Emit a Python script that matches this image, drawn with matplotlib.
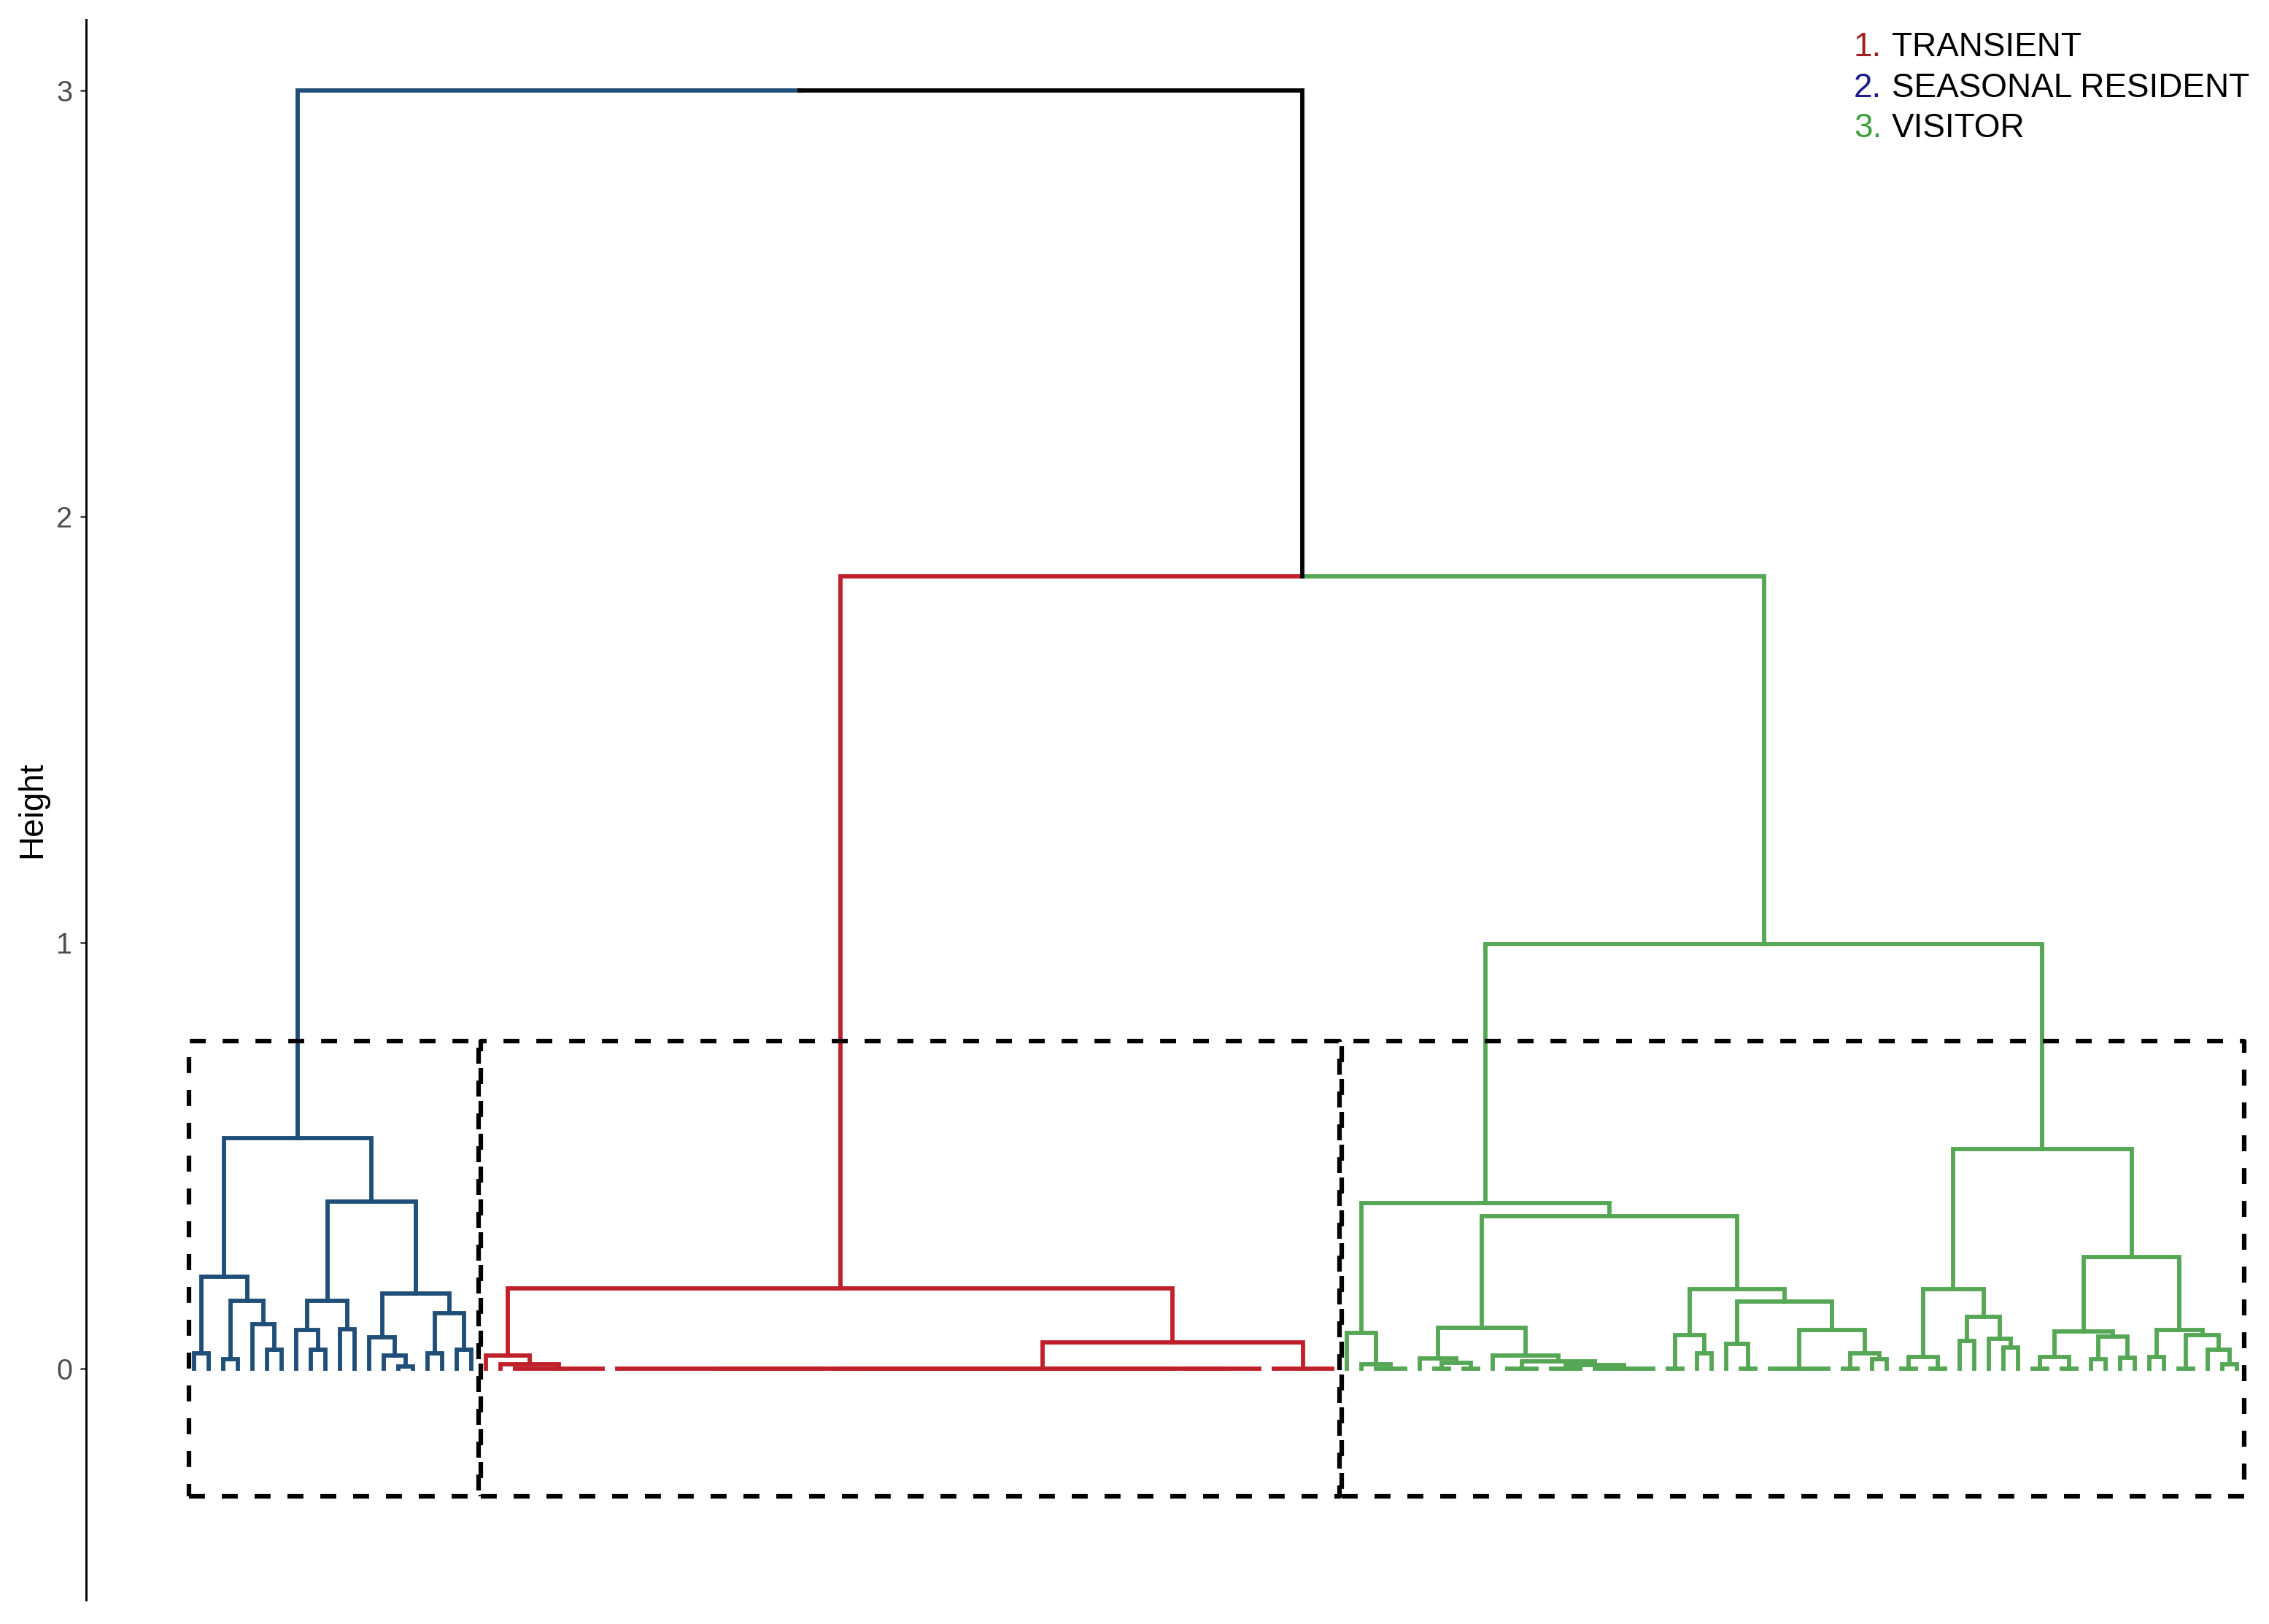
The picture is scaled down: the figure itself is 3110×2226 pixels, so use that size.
import matplotlib.pyplot as plt
from matplotlib.collections import LineCollection

plt.rcParams['font.family'] = ['Liberation Sans', 'DejaVu Sans']

# ---- data ----
# a node is (merge height, left, right); an int n stands for n leaves joined at height 0
blue_tree = (0.541,
             (0.216, (0.036, 1, 1), (0.159, (0.022, 1, 1), (0.104, 1, (0.045, 1, 1)))),
             (0.392, (0.159, (0.09, 1, (0.045, 1, 1)), (0.092, 1, 1)),
                     (0.176, (0.073, 1, (0.03, 1, (0.005, 1, 1))), (0.13, (0.036, 1, 1), (0.045, 1, 1)))))

red_tree = (0.188,
            (0.03, 1, (0.01, 1, 7)),
            (0.062, (0, (0, 15, 24), 6), 5))

green_tree = (0.997,
              (0.389,
               (0.084, 1, (0.01, 1, 3)),
               (0.358,
                (0.096, (0.024, 1, (0.013, 2, 2)), (0.03, 1, (0.017, 3, (0.008, 3, 5)))),
                (0.187, (0.079, 2, (0.036, 1, 1)),
                        (0.158, (0.058, 1, 2), (0.09, 5, (0.036, 2, (0.022, 1, 1))))))),
              (0.515,
               (0.187, (0.027, 2, 2), (0.122, (0.065, 1, 1), (0.07, 1, (0.05, 1, 1)))),
               (0.262, (0.087, (0.027, 2, 2), (0.076, (0.022, 1, 1), (0.025, 1, 1))),
                       (0.09, (0.027, 1, 1), (0.079, 2, (0.045, 1, (0.01, 1, 1)))))))

red_green_height = 1.86
root_height = 3.0

cluster_labels = ['TRANSIENT', 'SEASONAL RESIDENT', 'VISITOR']
number_colors = ['#A11F22', '#1A1A8C', '#3C9E3C']
blue_col = '#1F4E79'
red_col = '#C0202A'
green_col = '#55A655'
y_ticks = [0, 1, 2, 3]


def n_leaves(node):
    if isinstance(node, int):
        return node
    return n_leaves(node[1]) + n_leaves(node[2])


def layout(node, start, color, segs, cols, heights):
    # returns (x, height) of the node; leaves sit at 0, 1, 2, ...
    if isinstance(node, int):
        x0, x1 = start, start + node - 1
        if node > 1:
            segs.append([(x0, 0), (x1, 0)])
            cols.append(color)
        return (x0 + x1) / 2, 0.0
    h, left, right = node
    heights.append(h)
    xl, hl = layout(left, start, color, segs, cols, heights)
    xr, hr = layout(right, start + n_leaves(left), color, segs, cols, heights)
    x = (xl + xr) / 2
    segs.append([(x, h), (xl, h), (xl, hl)])
    cols.append(color)
    segs.append([(x, h), (xr, h), (xr, hr)])
    cols.append(color)
    return x, h


segs, cols, heights = [], [], []
nb, nr, ng = n_leaves(blue_tree), n_leaves(red_tree), n_leaves(green_tree)
xb, hb = layout(blue_tree, 0, blue_col, segs, cols, heights)
xr, hr = layout(red_tree, nb, red_col, segs, cols, heights)
xg, hg = layout(green_tree, nb + nr, green_col, segs, cols, heights)

x_mid = (xr + xg) / 2
segs += [[(x_mid, red_green_height), (xr, red_green_height), (xr, hr)],
         [(x_mid, red_green_height), (xg, red_green_height), (xg, hg)]]
cols += [red_col, green_col]
x_root = (xb + x_mid) / 2
segs += [[(x_root, root_height), (xb, root_height), (xb, hb)],
         [(x_root, root_height), (x_mid, root_height), (x_mid, red_green_height)]]
cols += [blue_col, 'black']

# ---- figure ----
W, H = 3110, 2226
fig = plt.figure(figsize=(W / 300, H / 300), dpi=300)
ax = fig.add_axes([118 / W, 1 - 2193 / H, (3100 - 118) / W, (2193 - 27) / H])

lc = LineCollection(segs, colors=cols, linewidths=1.4, capstyle='projecting', joinstyle='miter')
ax.add_collection(lc)

# cut rectangles for k = 3
all_h = sorted(heights + [red_green_height, root_height], reverse=True)
cut = (all_h[2] + all_h[3]) / 2
bottom = -0.1 * root_height
for start, n in [(0, nb), (nb, nr), (nb + nr, ng)]:
    x0, x1 = start - 0.35, start + n - 1 + 0.5
    ax.plot([x0, x1, x1, x0, x0], [bottom, bottom, cut, cut, bottom], color='black',
            lw=1.5, linestyle=(0, (3.5, 3.7)))

ax.set_xlim((118 - 266) / 20, (3100 - 266) / 20)
ax.set_ylim(-0.543, 3.166)
for s in ['top', 'right', 'bottom']:
    ax.spines[s].set_visible(False)
ax.spines['left'].set_linewidth(0.7)
ax.set_xticks([])
ax.set_yticks(y_ticks)
ax.tick_params(axis='y', length=2, width=0.6, color='#333333', labelcolor='#4D4D4D',
               labelsize=9.5, pad=2.5)

fig.text(44 / W, 0.5 * ((1 - 2193 / H) + (1 - 27 / H)), 'Height', rotation=90,
         ha='center', va='center', fontsize=11)

baselines = [77, 133, 188]
for i, (lab, c) in enumerate(zip(cluster_labels, number_colors)):
    y = 1 - baselines[i] / H
    fig.text(2541 / W, y, f'{i + 1}.', color=c, fontsize=11, va='baseline')
    fig.text(2593 / W, y, lab, color='black', fontsize=11, va='baseline')

fig.savefig('out.png', dpi=300, facecolor='white')
